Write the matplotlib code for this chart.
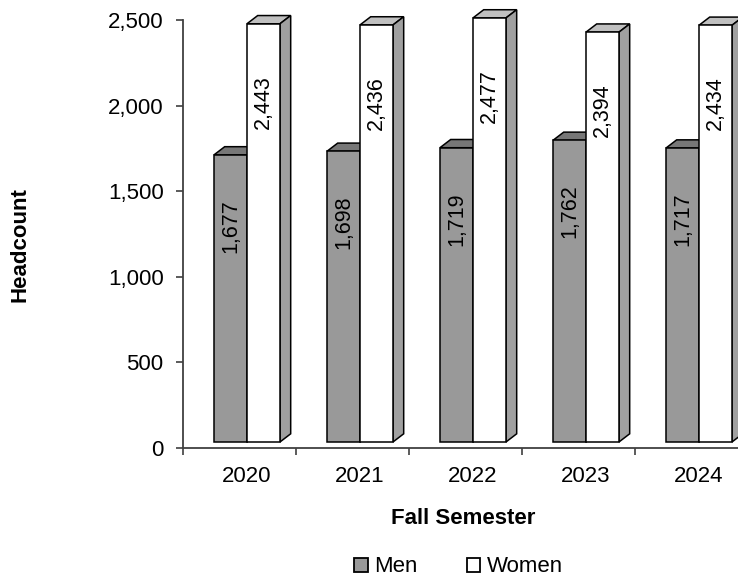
import matplotlib
matplotlib.use("Agg")
import matplotlib.pyplot as plt
from matplotlib.patches import Polygon, Patch
from matplotlib.ticker import FuncFormatter

plt.rcParams['font.family'] = ['Liberation Sans', 'DejaVu Sans']

years = ['2020', '2021', '2022', '2023', '2024']
men = [1677, 1698, 1719, 1762, 1717]
women = [2443, 2436, 2477, 2394, 2434]

# 3d look (in data units)
base = 35        # front face floor, a little above the axis line
dx = 0.095       # depth to the right, in category units
dy = 48          # depth upward, in value units
w = 0.292
men_left = 0.274

fig = plt.figure(figsize=(7.38, 5.78), dpi=100)
ax = fig.add_axes([183 / 738, 130 / 578, 565 / 738, 428 / 578])
ax.set_xlim(0, 5)
ax.set_ylim(0, 2500)


def bar3d(x0, h, front, top, side, label, lab_off):
    ax.bar(x0, h, width=w, bottom=base, align='edge', color=front,
           edgecolor='black', linewidth=1.1, clip_on=False, zorder=3)
    t = base + h
    ax.add_patch(Polygon([(x0, t), (x0 + w, t), (x0 + w + dx, t + dy), (x0 + dx, t + dy)],
                         closed=True, facecolor=top, edgecolor='black', linewidth=1.1,
                         clip_on=False, zorder=2))
    ax.add_patch(Polygon([(x0 + w, base), (x0 + w + dx, base + dy), (x0 + w + dx, t + dy), (x0 + w, t)],
                         closed=True, facecolor=side, edgecolor='black', linewidth=1.1,
                         clip_on=False, zorder=2))
    ax.text(x0 + w / 2, t - lab_off, label, rotation=90, ha='center', va='center',
            fontsize=15.5, zorder=5, clip_on=False)


for i in range(len(years)):
    x_m = i + men_left
    bar3d(x_m, men[i], '#999999', '#777777', '#777777', f'{men[i]:,}', 415)
    bar3d(x_m + w, women[i], 'white', '#c0c0c0', '#a0a0a0', f'{women[i]:,}', 456)

for s in ['top', 'right']:
    ax.spines[s].set_visible(False)
for s in ['left', 'bottom']:
    ax.spines[s].set_color('#404040')
    ax.spines[s].set_linewidth(1.3)

ax.set_yticks([0, 500, 1000, 1500, 2000, 2500])
ax.yaxis.set_major_formatter(FuncFormatter(lambda v, p: f'{int(v):,}'))
ax.tick_params(axis='y', direction='out', length=5, width=1.2, color='#404040',
               labelsize=16, pad=9)

ax.set_xticks([i + men_left + w for i in range(len(years))])
ax.set_xticklabels(years)
ax.set_xticks(range(6), minor=True)
ax.tick_params(axis='x', which='major', length=0, labelsize=16, pad=13)
ax.tick_params(axis='x', which='minor', direction='out', length=5, width=1.2, color='#404040')

fig.text(463 / 738, 1 - 518 / 578, 'Fall Semester', ha='center', va='center',
         fontsize=16, fontweight='bold')
fig.text(20 / 738, 1 - 245 / 578, 'Headcount', ha='center', va='center',
         rotation=90, fontsize=16, fontweight='bold')

handles = [Patch(facecolor='#999999', edgecolor='black', linewidth=1.3, label='Men'),
           Patch(facecolor='white', edgecolor='black', linewidth=1.3, label='Women')]
fig.legend(handles=handles, loc='center', bbox_to_anchor=(458.5 / 738, 1 - 567 / 578),
           ncol=2, frameon=False, fontsize=16, handlelength=0.6, handleheight=0.6,
           handletextpad=0.3, columnspacing=2.2, borderpad=0)

fig.savefig('out.png', dpi=100)
